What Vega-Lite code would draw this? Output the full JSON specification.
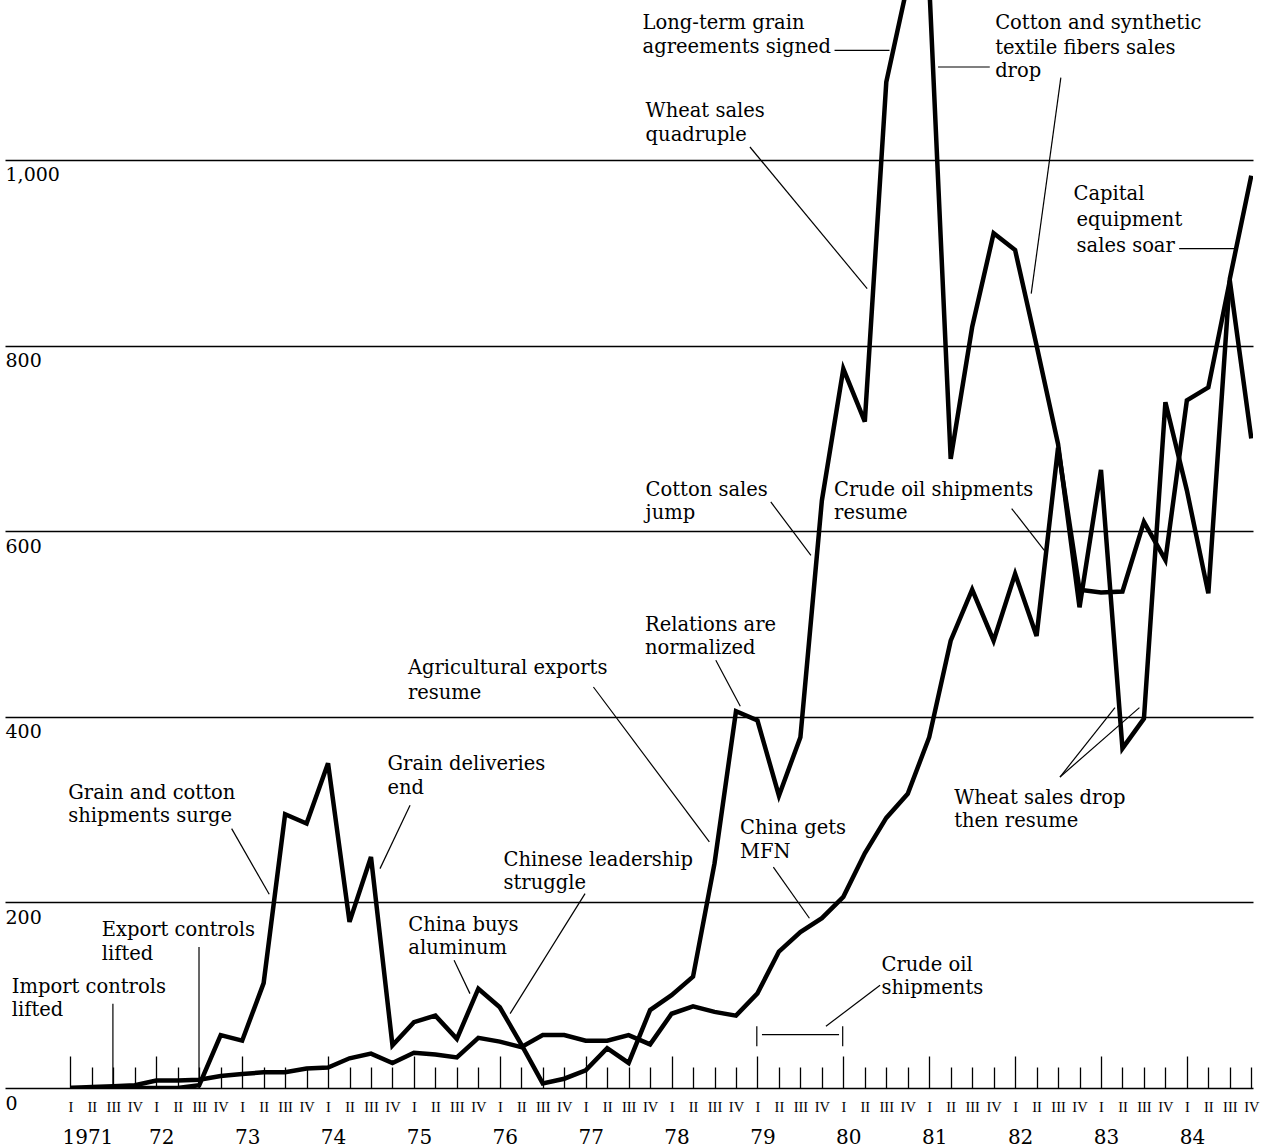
{
  "$schema": "https://vega.github.io/schema/vega-lite/v6.json",
  "width": 1248,
  "height": 1088,
  "autosize": {"type": "none"},
  "padding": {"left": 5, "top": 0, "right": 10, "bottom": 59},
  "background": "white",
  "config": {"view": {"stroke": null}, "font": "DejaVu Serif"},
  "datasets": {
    "trade": [
      {"t":0,"year":1971,"quarter":"I","exports":0,"imports":0},
      {"t":1,"year":1971,"quarter":"II","exports":0,"imports":1},
      {"t":2,"year":1971,"quarter":"III","exports":0,"imports":2},
      {"t":3,"year":1971,"quarter":"IV","exports":0,"imports":3},
      {"t":4,"year":1972,"quarter":"I","exports":0,"imports":8},
      {"t":5,"year":1972,"quarter":"II","exports":0,"imports":8},
      {"t":6,"year":1972,"quarter":"III","exports":3,"imports":9},
      {"t":7,"year":1972,"quarter":"IV","exports":57,"imports":13},
      {"t":8,"year":1973,"quarter":"I","exports":51,"imports":15},
      {"t":9,"year":1973,"quarter":"II","exports":113,"imports":17},
      {"t":10,"year":1973,"quarter":"III","exports":295,"imports":17},
      {"t":11,"year":1973,"quarter":"IV","exports":285,"imports":21},
      {"t":12,"year":1974,"quarter":"I","exports":350,"imports":22},
      {"t":13,"year":1974,"quarter":"II","exports":179,"imports":32},
      {"t":14,"year":1974,"quarter":"III","exports":249,"imports":37},
      {"t":15,"year":1974,"quarter":"IV","exports":46,"imports":27},
      {"t":16,"year":1975,"quarter":"I","exports":71,"imports":38},
      {"t":17,"year":1975,"quarter":"II","exports":78,"imports":36},
      {"t":18,"year":1975,"quarter":"III","exports":53,"imports":33},
      {"t":19,"year":1975,"quarter":"IV","exports":107,"imports":54},
      {"t":20,"year":1976,"quarter":"I","exports":87,"imports":50},
      {"t":21,"year":1976,"quarter":"II","exports":47,"imports":44},
      {"t":22,"year":1976,"quarter":"III","exports":5,"imports":57},
      {"t":23,"year":1976,"quarter":"IV","exports":10,"imports":57},
      {"t":24,"year":1977,"quarter":"I","exports":19,"imports":51},
      {"t":25,"year":1977,"quarter":"II","exports":43,"imports":51},
      {"t":26,"year":1977,"quarter":"III","exports":27,"imports":57},
      {"t":27,"year":1977,"quarter":"IV","exports":84,"imports":47},
      {"t":28,"year":1978,"quarter":"I","exports":100,"imports":80},
      {"t":29,"year":1978,"quarter":"II","exports":120,"imports":88},
      {"t":30,"year":1978,"quarter":"III","exports":242,"imports":82},
      {"t":31,"year":1978,"quarter":"IV","exports":406,"imports":78},
      {"t":32,"year":1979,"quarter":"I","exports":396,"imports":102},
      {"t":33,"year":1979,"quarter":"II","exports":315,"imports":147},
      {"t":34,"year":1979,"quarter":"III","exports":378,"imports":168},
      {"t":35,"year":1979,"quarter":"IV","exports":633,"imports":183},
      {"t":36,"year":1980,"quarter":"I","exports":775,"imports":206},
      {"t":37,"year":1980,"quarter":"II","exports":718,"imports":253},
      {"t":38,"year":1980,"quarter":"III","exports":1084,"imports":291},
      {"t":39,"year":1980,"quarter":"IV","exports":1190,"imports":317},
      {"t":40,"year":1981,"quarter":"I","exports":1190,"imports":378},
      {"t":41,"year":1981,"quarter":"II","exports":678,"imports":482},
      {"t":42,"year":1981,"quarter":"III","exports":820,"imports":537},
      {"t":43,"year":1981,"quarter":"IV","exports":921,"imports":482},
      {"t":44,"year":1982,"quarter":"I","exports":903,"imports":554},
      {"t":45,"year":1982,"quarter":"II","exports":800,"imports":487},
      {"t":46,"year":1982,"quarter":"III","exports":694,"imports":690},
      {"t":47,"year":1982,"quarter":"IV","exports":518,"imports":537},
      {"t":48,"year":1983,"quarter":"I","exports":666,"imports":534},
      {"t":49,"year":1983,"quarter":"II","exports":366,"imports":535},
      {"t":50,"year":1983,"quarter":"III","exports":398,"imports":610},
      {"t":51,"year":1983,"quarter":"IV","exports":739,"imports":569},
      {"t":52,"year":1984,"quarter":"I","exports":644,"imports":741},
      {"t":53,"year":1984,"quarter":"II","exports":533,"imports":755},
      {"t":54,"year":1984,"quarter":"III","exports":872,"imports":870},
      {"t":55,"year":1984,"quarter":"IV","exports":983,"imports":700}
    ],
    "notes": [
      {"text":"Long-term grain","t":26.65,"v":1147.7},
      {"text":"agreements signed","t":26.65,"v":1121.9},
      {"text":"Cotton and synthetic","t":43.07,"v":1147.7},
      {"text":"textile fibers sales","t":43.07,"v":1121.1},
      {"text":"drop","t":43.07,"v":1095.6},
      {"text":"Wheat sales","t":26.79,"v":1052.5},
      {"text":"quadruple","t":26.79,"v":1026.6},
      {"text":"Capital","t":46.72,"v":963.8},
      {"text":"equipment","t":46.86,"v":935.6},
      {"text":"sales soar","t":46.86,"v":907.0},
      {"text":"Cotton sales","t":26.79,"v":644.8},
      {"text":"jump","t":26.79,"v":619.7},
      {"text":"Crude oil shipments","t":35.57,"v":644.8},
      {"text":"resume","t":35.57,"v":619.7},
      {"text":"Relations are","t":26.76,"v":499.4},
      {"text":"normalized","t":26.76,"v":474.2},
      {"text":"Agricultural exports","t":15.72,"v":452.3},
      {"text":"resume","t":15.72,"v":425.9},
      {"text":"Grain deliveries","t":14.77,"v":349.2},
      {"text":"end","t":14.77,"v":323.4},
      {"text":"Grain and cotton","t":-0.10,"v":318.1},
      {"text":"shipments surge","t":-0.10,"v":292.8},
      {"text":"Wheat sales drop","t":41.16,"v":312.7},
      {"text":"then resume","t":41.16,"v":287.4},
      {"text":"China gets","t":31.19,"v":280.3},
      {"text":"MFN","t":31.19,"v":254.4},
      {"text":"Chinese leadership","t":20.17,"v":246.1},
      {"text":"struggle","t":20.17,"v":220.6},
      {"text":"China buys","t":15.74,"v":176.1},
      {"text":"aluminum","t":15.74,"v":151.1},
      {"text":"Export controls","t":1.46,"v":170.3},
      {"text":"lifted","t":1.46,"v":144.6},
      {"text":"Crude oil","t":37.78,"v":133.0},
      {"text":"shipments","t":37.78,"v":108.2},
      {"text":"Import controls","t":-2.73,"v":108.8},
      {"text":"lifted","t":-2.73,"v":83.7}
    ],
    "leaders": [
      {"t":35.59,"v":1118.2,"t2":38.15,"v2":1118.2},
      {"t":40.41,"v":1100.2,"t2":42.82,"v2":1100.2},
      {"t":46.13,"v":1088.8,"t2":44.75,"v2":856.0},
      {"t":31.65,"v":1014.0,"t2":37.11,"v2":861.4},
      {"t":51.64,"v":904.5,"t2":54.20,"v2":904.5},
      {"t":32.62,"v":631.5,"t2":34.49,"v2":574.0},
      {"t":43.84,"v":624.4,"t2":45.36,"v2":579.4},
      {"t":30.06,"v":460.9,"t2":31.20,"v2":411.3},
      {"t":24.36,"v":432.1,"t2":29.76,"v2":265.1},
      {"t":15.82,"v":304.6,"t2":14.42,"v2":236.4},
      {"t":7.51,"v":279.5,"t2":9.26,"v2":208.7},
      {"t":17.87,"v":137.6,"t2":18.61,"v2":101.7},
      {"t":23.97,"v":209.5,"t2":20.48,"v2":80.2},
      {"t":32.74,"v":238.1,"t2":34.42,"v2":182.9},
      {"t":46.09,"v":335.1,"t2":48.65,"v2":409.9},
      {"t":46.09,"v":335.1,"t2":49.79,"v2":409.9},
      {"t":37.71,"v":110.7,"t2":35.19,"v2":66.5},
      {"t":32.21,"v":57.5,"t2":35.80,"v2":57.5},
      {"t":31.97,"v":44.9,"t2":31.97,"v2":66.5},
      {"t":35.97,"v":44.9,"t2":35.97,"v2":66.5},
      {"t":1.98,"v":0,"t2":1.98,"v2":90.9},
      {"t":5.99,"v":0,"t2":5.99,"v2":151.9}
    ]
  },
  "layer": [
    {
      "data": {"name": "leaders"},
      "mark": {"type": "rule", "color": "black", "strokeWidth": 1.2},
      "encoding": {
        "x": {"field": "t", "type": "quantitative", "scale": {"domain": [-3.046, 55.08], "nice": false, "zero": false},
          "axis": {"orient": "bottom", "values": [0,4,8,12,16,20,24,28,32,36,40,44,48,52], "ticks": false, "domain": false, "grid": false, "title": null,
            "labelExpr": "datum.value == 0 ? '1971' : format(71 + datum.value / 4, 'd')",
            "labelFont": "DejaVu Serif", "labelFontSize": 20, "labelColor": "black", "labelPadding": 39,
            "labelOffset": {"condition": {"test": "datum.value == 0", "value": 17}, "value": 5},
            "labelOverlap": false, "labelFlush": false, "labelBound": false}},
        "y": {"field": "v", "type": "quantitative", "scale": {"domain": [0, 1172.4], "nice": false, "zero": false},
          "axis": {"orient": "left", "values": [0,200,400,600,800,1000], "format": ",d", "grid": true, "gridColor": "black", "gridWidth": 1.5, "gridOpacity": 1,
            "ticks": false, "domain": false, "title": null,
            "labelAlign": "left", "labelBaseline": "top", "labelPadding": 0, "labelOffset": 6,
            "labelFont": "DejaVu Serif", "labelFontSize": 19, "labelColor": "black"}},
        "x2": {"field": "t2"},
        "y2": {"field": "v2"}
      }
    },
    {
      "data": {"name": "notes"},
      "mark": {"type": "text", "align": "left", "baseline": "middle", "font": "DejaVu Serif", "fontSize": 19.5, "color": "black"},
      "encoding": {
        "x": {"field": "t", "type": "quantitative", "scale": {"domain": [-3.046, 55.08], "nice": false, "zero": false},
          "axis": {"orient": "bottom", "values": [0,1,2,3,4,5,6,7,8,9,10,11,12,13,14,15,16,17,18,19,20,21,22,23,24,25,26,27,28,29,30,31,32,33,34,35,36,37,38,39,40,41,42,43,44,45,46,47,48,49,50,51,52,53,54,55],
            "ticks": false, "domain": false, "grid": false, "title": null,
            "labelExpr": "['I','II','III','IV'][datum.value % 4]",
            "labelFont": "Liberation Serif", "labelFontSize": 14.5, "labelColor": "black", "labelPadding": 12,
            "labelOverlap": false, "labelFlush": false, "labelBound": false}},
        "y": {"field": "v", "type": "quantitative", "scale": {"domain": [0, 1172.4], "nice": false, "zero": false}},
        "text": {"field": "text"}
      }
    },
    {
      "data": {"name": "trade"},
      "mark": {"type": "line", "color": "black", "strokeWidth": 4.5, "clip": true},
      "encoding": {
        "x": {"field": "t", "type": "quantitative", "scale": {"domain": [-3.046, 55.08], "nice": false, "zero": false}, "axis": null},
        "y": {"field": "imports", "type": "quantitative", "scale": {"domain": [0, 1172.4], "nice": false, "zero": false}}
      }
    },
    {
      "data": {"name": "trade"},
      "mark": {"type": "line", "color": "black", "strokeWidth": 4.5, "clip": true},
      "encoding": {
        "x": {"field": "t", "type": "quantitative", "scale": {"domain": [-3.046, 55.08], "nice": false, "zero": false},
          "axis": {"orient": "bottom", "values": [0,1,2,3,4,5,6,7,8,9,10,11,12,13,14,15,16,17,18,19,20,21,22,23,24,25,26,27,28,29,30,31,32,33,34,35,36,37,38,39,40,41,42,43,44,45,46,47,48,49,50,51,52,53,54,55],
            "ticks": true, "tickColor": "black", "tickWidth": 1.3,
            "tickSize": {"condition": {"test": "datum.value % 4 === 0", "value": -32}, "value": -21},
            "labels": false, "domain": false, "grid": false, "title": null}},
        "y": {"field": "exports", "type": "quantitative", "scale": {"domain": [0, 1172.4], "nice": false, "zero": false}}
      }
    }
  ],
  "resolve": {"axis": {"x": "independent"}}
}
